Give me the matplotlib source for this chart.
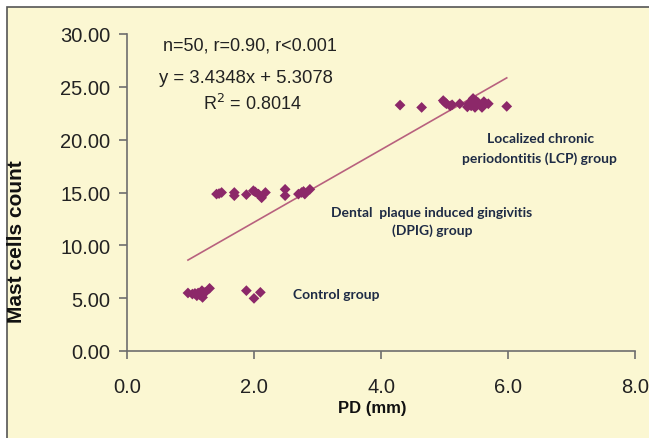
import numpy as np
import matplotlib.pyplot as plt
from matplotlib.patches import Rectangle
from matplotlib.ticker import FormatStrFormatter

# ---- data ----
ctrl_pd = [0.96, 1.03, 1.10, 1.12, 1.18, 1.19, 1.23, 1.30, 1.88, 2.00, 2.10, 1.15, 1.07]
ctrl_mc = [5.49, 5.39, 5.23, 5.49, 5.71, 5.07, 5.55, 5.93, 5.71, 4.98, 5.55, 5.30, 5.45]

dpig_pd = [1.41, 1.49, 1.69, 1.69, 1.88, 1.99, 2.07, 2.12, 2.18, 2.49, 2.49, 2.70,
           2.75, 2.80, 2.88, 1.45, 2.02, 2.78]
dpig_mc = [14.85, 15.00, 15.00, 14.70, 14.80, 15.17, 14.85, 14.50, 15.00, 15.30, 14.70, 14.85,
           15.00, 14.85, 15.30, 14.90, 15.05, 15.10]

lcp_pd = [4.30, 4.64, 4.98, 5.03, 5.09, 5.24, 5.38, 5.45, 5.48, 5.53, 5.59, 5.69,
          5.98, 5.00, 5.12, 5.42, 5.50, 5.36, 5.62]
lcp_mc = [23.27, 23.05, 23.70, 23.40, 23.20, 23.40, 23.40, 23.90, 23.05, 23.50, 23.05, 23.40,
          23.15, 23.55, 23.30, 23.20, 23.65, 23.10, 23.60]

slope, intercept = 3.4348, 5.3078

bg = "#FBF7D2"
mk = "#8C2869"
txt = "#1E2B45"

fig = plt.figure(figsize=(6.49, 4.39), dpi=100)
fig.patch.set_facecolor("white")
frame = Rectangle((7 / 649, -0.1), 2, 1 - 8 / 439 + 0.1, transform=fig.transFigure,
                  facecolor=bg, edgecolor="#555555", lw=1.2, zorder=-10)
fig.patches.append(frame)

ax = fig.add_axes([127 / 649, 1 - 352 / 439, (635 - 127) / 649, (352 - 35) / 439])
ax.patch.set_alpha(0)

all_x = np.array(ctrl_pd + dpig_pd + lcp_pd)
all_y = np.array(ctrl_mc + dpig_mc + lcp_mc)

xl = np.array([all_x.min(), all_x.max()])
ax.plot(xl, slope * xl + intercept, color="#B8617E", lw=1.2, zorder=2)
ax.scatter(all_x, all_y, marker="D", s=30, color=mk, edgecolors="none", zorder=3)

ax.set_xlim(0, 8)
ax.set_ylim(0, 30)
ax.set_xticks(np.arange(0, 8.1, 2))
ax.set_yticks(np.arange(0, 30.1, 5))
ax.xaxis.set_major_formatter(FormatStrFormatter("%.1f"))
ax.yaxis.set_major_formatter(FormatStrFormatter("%.2f"))
for s in ["top", "right"]:
    ax.spines[s].set_visible(False)
for s in ["left", "bottom"]:
    ax.spines[s].set_color("#6E6E6E")
    ax.spines[s].set_linewidth(1.2)
ax.tick_params(colors="#6E6E6E", labelcolor="#222222", length=6, width=1.2,
               labelsize=14.5)
for lab in ax.get_xticklabels() + ax.get_yticklabels():
    lab.set_fontfamily("Liberation Sans")
ax.tick_params(axis="x", pad=13)
ax.tick_params(axis="y", pad=6)

ax.set_xlabel("PD (mm)", fontsize=12, fontweight="bold", family="Liberation Sans",
              color="#111111")
ax.set_ylabel("Mast cells count", fontsize=15, fontweight="bold", family="Liberation Sans",
              color="#111111")
ax.xaxis.set_label_coords(0.482, -0.155)
ax.yaxis.set_label_coords(-0.199, 0.347)

# stats text
ax.text(1.93, 29.0, "n=50, r=0.90, r<0.001", ha="center", va="center", fontsize=13,
        family="Liberation Sans", color="#222222")
ax.text(1.87, 25.85, "y = 3.4348x + 5.3078", ha="center", va="center", fontsize=13.3,
        family="Liberation Sans", color="#222222")
ax.text(1.97, 23.5, "R$^2$ = 0.8014", ha="center", va="center", fontsize=13,
        family="Liberation Sans", color="#222222")

# group labels
grp = dict(family="Lato", fontweight="bold", fontsize=10, color=txt, va="center")
ax.text(6.52, 20.2, "Localized chronic", ha="center", **grp)
ax.text(6.50, 18.3, "periodontitis (LCP) group", ha="center", **grp)
ax.text(4.80, 13.2, "Dental  plaque induced gingivitis", ha="center", **grp)
ax.text(4.80, 11.45, "(DPIG) group", ha="center", **grp)
ax.text(2.61, 5.39, "Control group", ha="left", **grp)

fig.savefig("out.png", dpi=100, facecolor=fig.get_facecolor())
